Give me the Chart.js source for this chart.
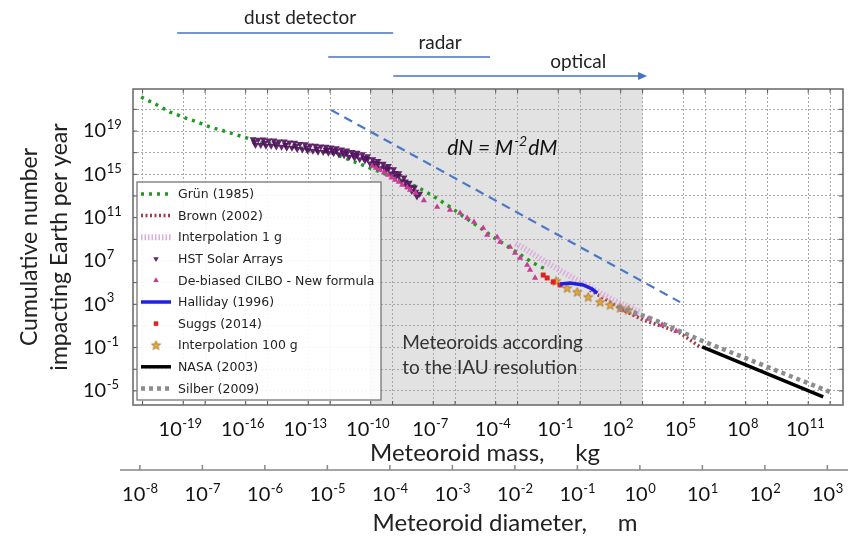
<!DOCTYPE html>
<html>
<head>
<meta charset="utf-8">
<script src="https://cdn.jsdelivr.net/npm/chart.js@4.4.0/dist/chart.umd.min.js"></script>
<style>
  html, body { margin: 0; padding: 0; background: #fff; }
  #wrap { width: 848px; height: 542px; }
</style>
</head>
<body>
<div id="wrap"><canvas id="c"></canvas></div>
<script>
// All values are log10: mass in kg, diameter in m, cumulative number per year.
const massMin = -21.26, massMax = 12.82;
const fluxMin = -6.3, fluxMax = 22.88;
const diaMin = -8.11, diaMax = 3.25;

const massTickLabels = [-19, -16, -13, -10, -7, -4, -1, 2, 5, 8, 11];
const diaTickLabels = [-8, -7, -6, -5, -4, -3, -2, -1, 0, 1, 2, 3];
const fluxTickLabels = [19, 15, 11, 7, 3, -1, -5];
const massGrid = [-20.8, -18.85, -17.8, -15.85, -14.8, -12.85, -11.8, -9.85, -8.8, -6.85, -5.8,
  -3.85, -2.8, -0.85, 0.2, 2.15, 3.2, 5.15, 6.2, 8.15, 9.2, 11.15, 12.2];
const fluxGrid = [-5, -3, -1, 1, 3, 5, 7, 9, 11, 13, 15, 17, 19, 21];

// IAU meteoroid size range (shaded), in log mass
const iauMass = [-9.85, 3.2];

// detection technique ranges above the plot
const rangeNames = ["dust detector", "radar", "optical"];
const rangeFrom = [-19.14, -11.89, -8.77];
const rangeTo = [-8.77, -4.12, 3.32];
const rangeTextAt = [-13.24, -6.52, 0.11];

const grunMass = [-20.87, -20.10, -19.48, -18.86, -18.18, -17.56, -16.74, -15.78, -15.30, -13.86, -12.76,
  -11.80, -9.88, -8.77, -7.62, -6.85, -6.04, -4.93, -3.97, -3.01, -2.05, -1.38];
const grunFlux = [22.14, 21.40, 20.75, 20.29, 19.83, 19.37, 18.91, 18.35, 17.98, 17.71, 17.25,
  17.06, 15.58, 14.75, 13.83, 13.0, 11.98, 10.5, 9.21, 8.01, 6.81, 6.17];

const brownMass = [0.68, 2.27, 3.23, 4.38, 5.0, 5.96];
const brownFlux = [4.32, 2.47, 1.55, 0.81, 0.35, -0.94];

const interp1gMass = [-2.9, -2.34, -1.38, 0.2, 1.79, 3.08];
const interp1gFlux = [8.6, 8.01, 6.81, 5.06, 3.40, 2.29];

const hstMass = [-15.5, -15.25, -15.0, -14.75, -14.5, -14.25, -14.0, -13.75, -13.5, -13.25, -13.0,
  -12.75, -12.5, -12.25, -12.0, -11.75, -11.5, -11.25, -11.0, -10.75, -10.5, -10.25, -10.0,
  -9.75, -9.5, -9.25, -9.0, -8.75, -8.5, -8.25, -8.0, -7.75, -7.5,
  -15.38, -15.13, -14.88, -14.63, -14.38, -14.13, -13.88, -13.63, -13.38, -13.13, -12.88,
  -12.63, -12.38, -12.13, -11.88, -11.63, -11.38, -11.13, -10.88, -10.63, -10.38, -10.13,
  -9.88, -9.63, -9.38, -9.13, -8.88, -8.63, -8.38, -8.13, -7.88, -7.63,
  -12.0, -11.5, -11.0, -10.5, -10.0, -9.5, -9.0, -8.5,
  -15.44, -14.94, -14.44, -13.94, -13.44, -12.94, -12.44, -11.94, -11.69, -11.19, -10.69,
  -10.19, -9.69, -9.19, -8.69, -8.19, -7.94, -7.69];
const hstFlux = [18.25, 18.19, 18.22, 18.12, 18.13, 18.04, 18.03, 17.95, 17.92, 17.80, 17.78,
  17.66, 17.65, 17.57, 17.55, 17.48, 17.42, 17.30, 17.21, 17.07, 17.00, 16.85, 16.68,
  16.40, 16.22, 15.98, 15.76, 15.47, 15.10, 14.70, 14.22, 13.78, 13.20,
  17.70, 17.72, 17.64, 17.63, 17.57, 17.55, 17.46, 17.45, 17.35, 17.30, 17.20,
  17.17, 17.09, 17.07, 17.00, 16.95, 16.85, 16.76, 16.63, 16.53, 16.40, 16.27,
  16.00, 15.80, 15.57, 15.37, 15.08, 14.78, 14.37, 13.95, 13.46, 12.95,
  17.28, 17.15, 16.94, 16.73, 16.41, 15.95, 15.49, 14.84,
  17.97, 17.92, 17.84, 17.74, 17.62, 17.48, 17.37, 17.27, 17.22, 17.03, 16.81,
  16.56, 16.10, 15.66, 15.13, 14.33, 13.86, 13.40];

const cilboMass = [-9.78, -9.40, -9.01, -8.68, -8.34, -7.96, -6.66, -6.04, -5.56, -5.22, -4.89,
  -4.45, -4.26, -3.78, -3.64, -3.16, -2.92, -2.68, -2.34, -2.20, -1.96, 2.22, 2.84, 3.47, 4.14, 4.81,
  -9.6, -9.2, -8.85, -8.5, -8.1, -7.7, -7.3];
const cilboFlux = [15.77, 15.40, 14.94, 14.48, 14.01, 13.55, 11.98, 11.71, 11.43, 10.97, 10.60,
  10.04, 9.40, 9.21, 8.75, 8.29, 7.73, 7.27, 6.63, 6.17, 5.43, 2.47, 2.10, 1.64, 1.09, 0.53,
  15.6, 15.2, 14.7, 14.3, 13.8, 13.3, 12.6];

const hallidayMass = [-0.76, -0.28, 0.35, 0.78, 1.02];
const hallidayFlux = [4.87, 4.96, 4.78, 4.41, 4.04];

const suggsMass = [-1.57, -1.38, -1.09, -0.76];
const suggsFlux = [5.70, 5.43, 5.06, 4.78];

const interp100gMass = [-0.95, -0.42, 0.06, 0.59, 1.16, 1.64, 2.12, 2.51];
const interp100gFlux = [5.15, 4.50, 4.13, 3.67, 3.21, 2.93, 2.66, 2.47];

const nasaMass = [6.06, 11.87];
const nasaFlux = [-0.94, -5.56];

const silberMass = [2.03, 3.56, 5.96, 8.84, 12.20];
const silberFlux = [2.75, 1.73, -0.30, -2.51, -5.10];

// dN = M^-2 dM reference slope
const refMass = [-11.75, 5.0];
const refFlux = [20.94, 3.2];

function pts(xs, ys) {
  return xs.map((x, i) => ({ x: x, y: ys[i] }));
}

// filled star marker for "Interpolation 100 g"
const star = document.createElement("canvas");
star.width = 11; star.height = 11;
(function () {
  const s = star.getContext("2d");
  s.beginPath();
  for (let i = 0; i < 10; i++) {
    const r = i % 2 ? 2.1 : 4.9;
    const a = -Math.PI / 2 + i * Math.PI / 5;
    s.lineTo(5.5 + r * Math.cos(a), 5.8 + r * Math.sin(a));
  }
  s.closePath();
  s.fillStyle = "#e6a83c";
  s.fill();
  s.lineWidth = 0.8;
  s.strokeStyle = "#a0702a";
  s.stroke();
})();

function lineSet(label, xs, ys, color, width, dash, order) {
  return {
    label: label, data: pts(xs, ys), showLine: true, borderColor: color, backgroundColor: color,
    borderWidth: width, borderDash: dash, pointRadius: 0, order: order, sym: "line"
  };
}

function pointSet(label, xs, ys, color, style, rotation, radius, order) {
  return {
    label: label, data: pts(xs, ys), showLine: false, backgroundColor: color, borderColor: color,
    borderWidth: 0, pointStyle: style, rotation: rotation, pointRadius: radius, order: order, sym: "point"
  };
}

const datasets = [
  lineSet("Grün (1985)", grunMass, grunFlux, "#1e9a1e", 3.5, [3, 5], 8),
  lineSet("Brown (2002)", brownMass, brownFlux, "#a83a48", 3.5, [2, 2.5], 10),
  lineSet("Interpolation 1 g", interp1gMass, interp1gFlux, "#dcaede", 6, [1.5, 2], 9),
  pointSet("HST Solar Arrays", hstMass, hstFlux, "rgba(80,16,92,0.9)", "triangle", 180, 4, 7),
  pointSet("De-biased CILBO - New formula", cilboMass, cilboFlux, "#c83c96", "triangle", 0, 3.6, 6),
  lineSet("Halliday (1996)", hallidayMass, hallidayFlux, "#2020e0", 3.5, [], 3),
  pointSet("Suggs (2014)", suggsMass, suggsFlux, "#dd2222", "rect", 0, 3.5, 4),
  pointSet("Interpolation 100 g", interp100gMass, interp100gFlux, "#e6a83c", star, 0, 5, 5),
  lineSet("NASA (2003)", nasaMass, nasaFlux, "#000000", 3.5, [], 1),
  lineSet("Silber (2009)", silberMass, silberFlux, "#8c8c8c", 4.5, [4, 4], 2),
  Object.assign(lineSet("dN = M^-2 dM", refMass, refFlux, "#4a78c8", 2.2, [9, 6], 0), { sym: "none" })
];

function drawPow(ctx, exp, x, y, size, align) {
  const big = size + "px Lato", small = Math.round(size * 0.65) + "px Lato";
  const es = String(exp);
  ctx.font = big;
  const w1 = ctx.measureText("10").width;
  ctx.font = small;
  const w2 = ctx.measureText(es).width;
  const x0 = align === "left" ? x : x - (w1 + w2) / 2;
  ctx.textAlign = "left";
  ctx.textBaseline = "middle";
  ctx.font = big;
  ctx.fillText("10", x0, y);
  ctx.font = small;
  ctx.fillText(es, x0 + w1 + 0.5, y - size * 0.3);
}

const decorPlugin = {
  id: "decor",
  beforeDraw(chart) {
    const ctx = chart.ctx, ca = chart.chartArea, xs = chart.scales.x;
    ctx.save();
    ctx.fillStyle = "#e2e2e2";
    const a = xs.getPixelForValue(iauMass[0]), b = xs.getPixelForValue(iauMass[1]);
    ctx.fillRect(a, ca.top, b - a, ca.bottom - ca.top);
    ctx.restore();
  },
  afterDraw(chart) {
    const ctx = chart.ctx, ca = chart.chartArea;
    const xs = chart.scales.x, ys = chart.scales.y, xd = chart.scales.xd;
    ctx.save();

    // inward tick marks
    ctx.strokeStyle = "#555";
    ctx.lineWidth = 1;
    ctx.beginPath();
    massGrid.forEach(v => {
      const p = xs.getPixelForValue(v);
      ctx.moveTo(p, ca.bottom); ctx.lineTo(p, ca.bottom - 4);
      ctx.moveTo(p, ca.top); ctx.lineTo(p, ca.top + 4);
    });
    fluxGrid.forEach(v => {
      const p = ys.getPixelForValue(v);
      ctx.moveTo(ca.left, p); ctx.lineTo(ca.left + 4, p);
      ctx.moveTo(ca.right, p); ctx.lineTo(ca.right - 4, p);
    });
    ctx.stroke();

    // plot frame
    ctx.strokeStyle = "#666";
    ctx.lineWidth = 1.5;
    ctx.strokeRect(ca.left, ca.top, ca.right - ca.left, ca.bottom - ca.top);

    // legend box
    const lx = ca.left + 4, ly = 182, lw = 244, lh = 218;
    ctx.fillStyle = "rgba(255,255,255,0.88)";
    ctx.fillRect(lx, ly, lw, lh);
    ctx.strokeStyle = "#777";
    ctx.lineWidth = 1.3;
    ctx.strokeRect(lx, ly, lw, lh);
    let row = 0;
    chart.data.datasets.forEach(ds => {
      if (ds.sym === "none") return;
      const y = 194 + row * 21.6;
      row++;
      if (ds.sym === "line") {
        ctx.save();
        ctx.strokeStyle = ds.borderColor;
        ctx.lineWidth = ds.borderWidth;
        ctx.setLineDash(ds.borderDash);
        ctx.beginPath();
        ctx.moveTo(lx + 4, y); ctx.lineTo(lx + 34, y);
        ctx.stroke();
        ctx.restore();
      } else {
        ctx.save();
        ctx.fillStyle = ds.backgroundColor;
        ctx.strokeStyle = ds.borderColor;
        Chart.helpers.drawPoint(ctx, { pointStyle: ds.pointStyle, rotation: ds.rotation, radius: 3.2, borderWidth: 0 }, lx + 19, y);
        ctx.restore();
      }
      ctx.fillStyle = "#222";
      ctx.font = "12.5px 'DejaVu Sans'";
      ctx.textAlign = "left";
      ctx.textBaseline = "middle";
      ctx.fillText(ds.label, lx + 41, y + 1);
    });

    // annotations in the plot
    ctx.fillStyle = "#111";
    ctx.font = "italic 21px Lato";
    ctx.textBaseline = "middle";
    ctx.textAlign = "left";
    let tx = xs.getPixelForValue(-6.18), ty = ys.getPixelForValue(17.43);
    ctx.fillText("dN = M", tx, ty);
    tx += ctx.measureText("dN = M").width + 1;
    ctx.font = "italic 14px Lato";
    ctx.fillText("-2", tx, ty - 7);
    tx += ctx.measureText("-2").width + 1;
    ctx.font = "italic 21px Lato";
    ctx.fillText("dM", tx, ty);

    ctx.fillStyle = "#333";
    ctx.font = "19px Lato";
    ctx.fillText("Meteoroids according", xs.getPixelForValue(-8.34), ys.getPixelForValue(-0.57));
    ctx.fillText("to the IAU resolution", xs.getPixelForValue(-8.34), ys.getPixelForValue(-2.88));

    // detection ranges above the plot
    const lineY = [33, 57, 76], textY = [18, 43, 62];
    ctx.strokeStyle = "#4472c4";
    ctx.fillStyle = "#4472c4";
    ctx.lineWidth = 1.6;
    rangeNames.forEach((name, i) => {
      const a = xs.getPixelForValue(rangeFrom[i]), b = xs.getPixelForValue(rangeTo[i]);
      ctx.beginPath();
      ctx.moveTo(a, lineY[i]); ctx.lineTo(b, lineY[i]);
      ctx.stroke();
      if (i === 2) {
        ctx.beginPath();
        ctx.moveTo(b + 2, lineY[i]); ctx.lineTo(b - 7, lineY[i] - 4); ctx.lineTo(b - 7, lineY[i] + 4);
        ctx.closePath();
        ctx.fill();
      }
    });
    ctx.fillStyle = "#222";
    ctx.font = "19px Lato";
    ctx.textAlign = "center";
    rangeNames.forEach((name, i) => {
      ctx.fillText(name, xs.getPixelForValue(rangeTextAt[i]), textY[i]);
    });

    // axis tick labels
    ctx.fillStyle = "#111";
    fluxTickLabels.forEach(v => drawPow(ctx, v, 83, ys.getPixelForValue(v), 20, "left"));
    massTickLabels.forEach(v => drawPow(ctx, v, xs.getPixelForValue(v), 430, 20, "center"));
    diaTickLabels.forEach(v => drawPow(ctx, v, xd.getPixelForValue(v), 495, 20, "center"));

    // diameter axis line
    ctx.strokeStyle = "#888";
    ctx.lineWidth = 1.5;
    ctx.beginPath();
    ctx.moveTo(ca.left - 13, 470); ctx.lineTo(848, 470);
    diaTickLabels.forEach(v => {
      const p = xd.getPixelForValue(v);
      ctx.moveTo(p, 470); ctx.lineTo(p, 465);
    });
    ctx.stroke();

    // axis titles
    ctx.fillStyle = "#222";
    ctx.font = "24px Lato";
    ctx.textAlign = "center";
    ctx.fillText("Meteoroid mass,     kg", 485, 453);
    ctx.fillText("Meteoroid diameter,     m", 505, 523);
    ctx.save();
    ctx.translate(30, 247);
    ctx.rotate(-Math.PI / 2);
    ctx.font = "23px Lato";
    ctx.fillText("Cumulative number", 0, 0);
    ctx.fillText("impacting Earth per year", 0, 30);
    ctx.restore();

    ctx.restore();
  }
};

const gridOpts = { color: "#a8a8a8", lineWidth: 1, drawTicks: false };

new Chart(document.getElementById("c"), {
  type: "scatter",
  data: { datasets: datasets },
  options: {
    responsive: true,
    maintainAspectRatio: false,
    animation: false,
    layout: { padding: { left: 0, right: 5, top: 89, bottom: 0 } },
    plugins: { legend: { display: false }, tooltip: { enabled: false } },
    scales: {
      x: {
        type: "linear", min: massMin, max: massMax,
        afterFit: s => { s.height = 137; },
        afterBuildTicks: s => { s.ticks = massGrid.map(v => ({ value: v })); },
        ticks: { display: false },
        grid: gridOpts,
        border: { display: false, dash: [2, 2] }
      },
      xd: { type: "linear", min: diaMin, max: diaMax, display: false },
      y: {
        type: "linear", min: fluxMin, max: fluxMax,
        afterFit: s => { s.width = 133; },
        afterBuildTicks: s => { s.ticks = fluxGrid.map(v => ({ value: v })); },
        ticks: { display: false },
        grid: gridOpts,
        border: { display: false, dash: [2, 2] }
      }
    }
  },
  plugins: [decorPlugin]
});
</script>
</body>
</html>
